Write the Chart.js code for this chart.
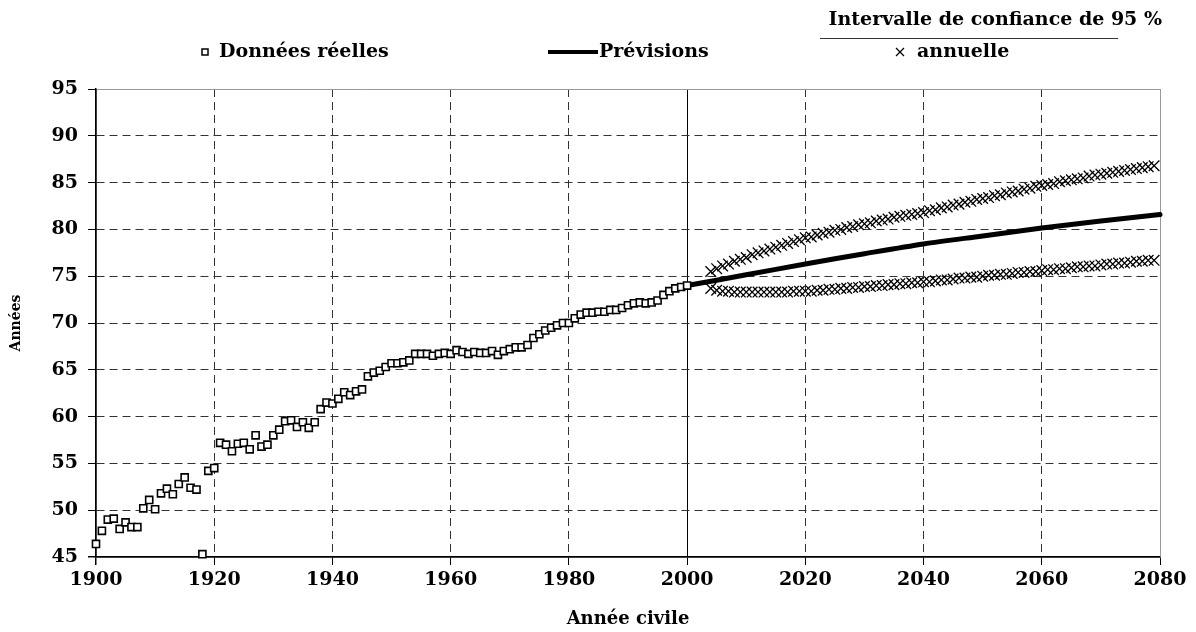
<!DOCTYPE html>
<html>
<head>
<meta charset="utf-8">
<script src="https://cdn.jsdelivr.net/npm/chart.js@4.4.1/dist/chart.umd.min.js"></script>
<style>
  html, body { margin: 0; padding: 0; background: #fff; }
  #wrap { width: 1196px; height: 632px; }
</style>
</head>
<body>
<div id="wrap"><canvas id="chart" width="1196" height="632"></canvas></div>
<script>
// Données réelles, 1900 à 2000 (une valeur par année)
const realStart = 1900;
const realValues = [
  46.4, 47.8, 49.0, 49.1, 48.0, 48.7, 48.2, 48.2, 50.2, 51.1,
  50.1, 51.8, 52.3, 51.7, 52.8, 53.5, 52.4, 52.2, 45.3, 54.2,
  54.5, 57.2, 57.0, 56.3, 57.1, 57.2, 56.5, 58.0, 56.8, 57.0,
  58.0, 58.6, 59.5, 59.6, 58.9, 59.4, 58.8, 59.4, 60.8, 61.5,
  61.4, 61.9, 62.6, 62.3, 62.7, 62.9, 64.3, 64.7, 64.9, 65.3,
  65.7, 65.7, 65.8, 66.0, 66.7, 66.7, 66.7, 66.5, 66.7, 66.8,
  66.7, 67.1, 66.9, 66.7, 66.9, 66.8, 66.8, 67.0, 66.6, 67.0,
  67.2, 67.4, 67.4, 67.65, 68.4, 68.8, 69.2, 69.5, 69.75, 70.0,
  70.0, 70.5, 70.9, 71.1, 71.1, 71.2, 71.2, 71.4, 71.4, 71.6,
  71.9, 72.1, 72.2, 72.1, 72.2, 72.4, 73.0, 73.4, 73.7, 73.85,
  74.0
];

// Prévisions (ligne)
const forecastYears = [2000, 2010, 2020, 2030, 2040, 2050, 2060, 2070, 2080];
const forecastValues = [74.0, 75.15, 76.3, 77.4, 78.45, 79.3, 80.15, 80.9, 81.6];

// Intervalle de confiance annuel, 2004 à 2079
const ciStart = 2004;
const ciUpper = [
  75.5, 75.8, 76.1, 76.3, 76.6, 76.8, 77.0, 77.3, 77.5, 77.7,
  77.9, 78.1, 78.3, 78.5, 78.7, 78.9, 79.1, 79.2, 79.4, 79.6,
  79.7, 79.9, 80.0, 80.2, 80.3, 80.5, 80.6, 80.7, 80.9, 81.0,
  81.1, 81.3, 81.4, 81.5, 81.6, 81.7, 81.8, 82.0, 82.1, 82.3,
  82.4, 82.6, 82.7, 82.9, 83.0, 83.2, 83.3, 83.4, 83.6, 83.7,
  83.9, 84.0, 84.1, 84.3, 84.4, 84.6, 84.7, 84.8, 84.9, 85.1,
  85.2, 85.3, 85.4, 85.5, 85.7, 85.8, 85.9, 86.0, 86.1, 86.2,
  86.3, 86.4, 86.5, 86.6, 86.7, 86.8
];
const ciLower = [
  73.7, 73.5, 73.4, 73.4, 73.3, 73.3, 73.3, 73.3, 73.3, 73.3,
  73.3, 73.3, 73.3, 73.3, 73.4, 73.4, 73.4, 73.4, 73.5, 73.5,
  73.6, 73.6, 73.7, 73.7, 73.8, 73.8, 73.9, 73.9, 74.0, 74.0,
  74.1, 74.1, 74.2, 74.2, 74.3, 74.3, 74.4, 74.4, 74.5, 74.6,
  74.6, 74.7, 74.8, 74.8, 74.9, 74.9, 75.0, 75.1, 75.1, 75.2,
  75.2, 75.3, 75.4, 75.4, 75.5, 75.5, 75.6, 75.7, 75.7, 75.8,
  75.8, 75.9, 76.0, 76.0, 76.1, 76.1, 76.2, 76.3, 76.3, 76.4,
  76.4, 76.5, 76.6, 76.6, 76.7, 76.7
];

const xTicks = [1900, 1920, 1940, 1960, 1980, 2000, 2020, 2040, 2060, 2080];
const yTicks = [45, 50, 55, 60, 65, 70, 75, 80, 85, 90, 95];

const FONT = '"DejaVu Serif", "Liberation Serif", serif';

function pts(start, values) {
  return values.map((v, i) => ({ x: start + i, y: v }));
}

// légende dessinée à la main (mise en page particulière)
const legendPlugin = {
  id: 'customLegend',
  afterDraw(chart) {
    const ctx = chart.ctx;
    ctx.save();
    ctx.fillStyle = '#000';
    ctx.font = 'bold 19px ' + FONT;
    ctx.textBaseline = 'middle';
    ctx.textAlign = 'left';

    // carré
    ctx.strokeStyle = '#000';
    ctx.lineWidth = 1.5;
    ctx.strokeRect(202, 49, 6, 6);
    ctx.fillText('Données réelles', 219, 52);

    // ligne
    ctx.lineWidth = 4;
    ctx.beginPath();
    ctx.moveTo(548, 52);
    ctx.lineTo(598, 52);
    ctx.stroke();
    ctx.fillText('Prévisions', 599, 52);

    // croix
    ctx.lineWidth = 1.2;
    ctx.beginPath();
    ctx.moveTo(896, 48); ctx.lineTo(904, 56);
    ctx.moveTo(904, 48); ctx.lineTo(896, 56);
    ctx.stroke();
    ctx.fillText('annuelle', 917, 52);

    ctx.textAlign = 'right';
    ctx.fillText('Intervalle de confiance de 95 %', 1162, 20);
    ctx.lineWidth = 1;
    ctx.strokeStyle = '#333';
    ctx.beginPath();
    ctx.moveTo(820, 38.5);
    ctx.lineTo(1118, 38.5);
    ctx.stroke();
    ctx.restore();
  }
};

const ctx = document.getElementById('chart').getContext('2d');
const chart = new Chart(ctx, {
  type: 'line',
  data: {
    datasets: [
      {
        label: 'Données réelles',
        data: pts(realStart, realValues),
        showLine: false,
        pointStyle: 'rect',
        pointRadius: 5,
        pointBorderWidth: 1.6,
        pointBorderColor: '#000',
        pointBackgroundColor: '#fff',
        clip: false,
      },
      {
        label: 'Prévisions',
        data: forecastYears.map((y, i) => ({ x: y, y: forecastValues[i] })),
        borderColor: '#000',
        borderWidth: 5,
        pointRadius: 0,
        borderCapStyle: 'round',
        tension: 0.3,
        clip: false,
      },
      {
        label: 'Borne supérieure',
        data: pts(ciStart, ciUpper),
        showLine: false,
        pointStyle: 'crossRot',
        pointRadius: 7.5,
        pointBorderWidth: 1.3,
        pointBorderColor: '#000',
        clip: false,
      },
      {
        label: 'Borne inférieure',
        data: pts(ciStart, ciLower),
        showLine: false,
        pointStyle: 'crossRot',
        pointRadius: 7.5,
        pointBorderWidth: 1.3,
        pointBorderColor: '#000',
        clip: false,
      },
    ],
  },
  options: {
    responsive: false,
    animation: false,
    events: [],
    layout: { padding: { top: 89, right: 36, bottom: 0, left: 0 } },
    plugins: {
      legend: { display: false },
      tooltip: { enabled: false },
    },
    scales: {
      x: {
        type: 'linear',
        min: 1900,
        max: 2080,
        afterBuildTicks: (s) => { s.ticks = xTicks.map(v => ({ value: v })); },
        afterFit: (s) => { s.height = 75; },
        ticks: {
          color: '#000',
          padding: 4,
          maxRotation: 0,
          font: { family: FONT, size: 19, weight: 'bold' },
          callback: (v) => String(v),
        },
        grid: {
          color: (c) => {
            const v = c.tick && c.tick.value;
            if (v === 2080) return '#999';
            if (v === 2000 || v === 1900) return '#000';
            return '#333';
          },
          lineWidth: (c) => (c.tick && c.tick.value === 1900) ? 1.5 : 1,
          tickColor: '#000',
          tickLength: 8,
        },
        border: {
          color: '#000',
          width: 1.5,
          dash: (c) => {
            const v = c.tick && c.tick.value;
            return (v === 1900 || v === 2000 || v === 2080) ? [] : [8, 5];
          },
        },
        title: {
          display: true,
          text: 'Année civile',
          color: '#000',
          font: { family: FONT, size: 18, weight: 'bold' },
          padding: { top: 0, bottom: 2 },
        },
      },
      y: {
        min: 45,
        max: 95,
        afterBuildTicks: (s) => { s.ticks = yTicks.map(v => ({ value: v })); },
        afterFit: (s) => { s.width = 96; },
        ticks: {
          color: '#000',
          padding: 10,
          font: { family: FONT, size: 19, weight: 'bold' },
        },
        grid: {
          color: (c) => {
            const v = c.tick && c.tick.value;
            if (v === 95) return '#999';
            if (v === 45) return '#000';
            return '#333';
          },
          lineWidth: (c) => (c.tick && c.tick.value === 45) ? 1.5 : 1,
          tickColor: '#000',
          tickLength: 8,
        },
        border: {
          color: '#000',
          width: 1.5,
          dash: (c) => {
            const v = c.tick && c.tick.value;
            return (v === 45 || v === 95) ? [] : [8, 5];
          },
        },
        title: {
          display: true,
          text: 'Années',
          color: '#000',
          font: { family: FONT, size: 14, weight: 'bold' },
          padding: { top: 8, bottom: 0 },
        },
      },
    },
  },
  plugins: [legendPlugin],
});
</script>
</body>
</html>
